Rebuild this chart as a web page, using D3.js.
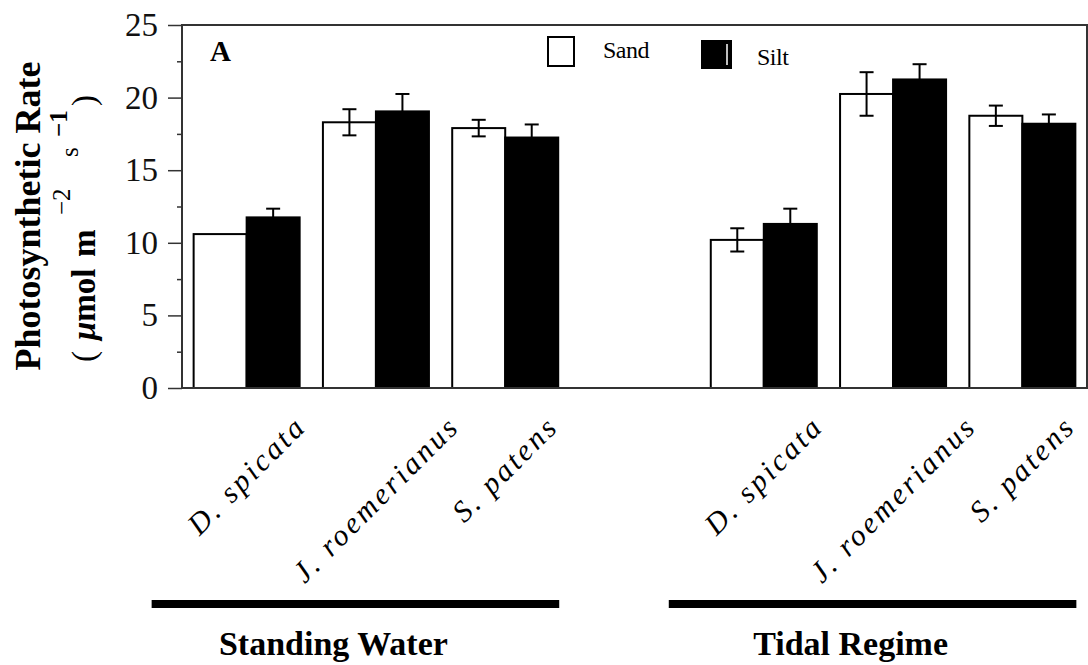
<!DOCTYPE html>
<html>
<head>
<meta charset="utf-8">
<script src="https://cdn.jsdelivr.net/npm/d3@7"></script>
<style>
  body { margin: 0; background: #fff; }
  svg { display: block; font-family: 'Liberation Serif', 'Times New Roman', serif; }
</style>
</head>
<body>
<div id="chart"></div>
<script>
// Chart values (photosynthetic rate, umol m-2 s-1)
const regimes = ['Standing Water', 'Tidal Regime'];
const species = ['D. spicata', 'J. roemerianus', 'S. patens'];
const soils = ['Sand', 'Silt'];
const sandMeans = [10.6, 18.3, 17.9, 10.2, 20.25, 18.75];
const sandErrors = [0, 0.9, 0.57, 0.8, 1.5, 0.7];
const siltMeans = [11.75, 19.05, 17.25, 11.3, 21.25, 18.2];
const siltErrors = [0.6, 1.2, 0.9, 1.05, 1.05, 0.64];
const yTicks = [0, 5, 10, 15, 20, 25];
const yMinorTicks = [2.5, 7.5, 12.5, 17.5, 22.5];
const panelLabel = 'A';
const serif = "'Liberation Serif', 'Times New Roman', serif";

class GroupedBarChart {
  constructor(_config) {
    this.config = {
      parentElement: _config.parentElement,
      containerWidth: 1088,
      containerHeight: 665,
      margin: {
        top: 25, right: 1, bottom: 277, left: 182,
      },
    };
    this.initVis();
  }

  initVis() {
    const vis = this;

    vis.config.width = vis.config.containerWidth
        - vis.config.margin.left - vis.config.margin.right;
    vis.config.height = vis.config.containerHeight
        - vis.config.margin.top - vis.config.margin.bottom;

    vis.svg = d3.select(vis.config.parentElement).append('svg')
      .attr('width', vis.config.containerWidth)
      .attr('height', vis.config.containerHeight);

    vis.chart = vis.svg.append('g')
      .attr('transform', `translate(${vis.config.margin.left},${vis.config.margin.top})`);

    // one band per species, with an empty band between the two regimes
    vis.slots = regimes.flatMap((r, i) => (i > 0 ? ['gap'] : [])
      .concat(species.map((s) => `${r}|${s}`)));

    vis.xScale = d3.scaleBand()
      .domain(vis.slots)
      .range([0, vis.config.width])
      .paddingInner(0.18)
      .paddingOuter(0.09);

    vis.xSub = d3.scaleBand()
      .domain(soils)
      .range([0, vis.xScale.bandwidth()]);

    vis.yScale = d3.scaleLinear()
      .domain([0, 25])
      .range([vis.config.height, 0]);

    vis.colorScale = d3.scaleOrdinal()
      .domain(soils)
      .range(['#fff', '#000']);

    vis.yAxis = d3.axisLeft(vis.yScale)
      .tickValues(yTicks)
      .tickSize(14)
      .tickSizeOuter(0)
      .tickPadding(10);

    vis.yAxisMinor = d3.axisLeft(vis.yScale)
      .tickValues(yMinorTicks)
      .tickSize(5)
      .tickSizeOuter(0)
      .tickFormat('');

    vis.updateVis();
  }

  updateVis() {
    const vis = this;
    vis.rows = regimes.flatMap((r, i) => species.map((s, j) => {
      const k = i * species.length + j;
      return {
        regime: r,
        species: s,
        key: `${r}|${s}`,
        values: [
          { soil: 'Sand', mean: sandMeans[k], err: sandErrors[k] },
          { soil: 'Silt', mean: siltMeans[k], err: siltErrors[k] },
        ],
      };
    }));
    vis.renderVis();
  }

  renderVis() {
    const vis = this;
    const { width, height } = vis.config;

    // Bars
    const group = vis.chart.selectAll('.group')
      .data(vis.rows)
      .join('g')
      .attr('class', 'group')
      .attr('transform', (d) => `translate(${vis.xScale(d.key)},0)`);

    group.selectAll('rect')
      .data((d) => d.values)
      .join('rect')
      .attr('x', (d) => vis.xSub(d.soil))
      .attr('y', (d) => vis.yScale(d.mean))
      .attr('width', vis.xSub.bandwidth())
      .attr('height', (d) => height - vis.yScale(d.mean))
      .attr('fill', (d) => vis.colorScale(d.soil))
      .attr('stroke', '#000')
      .attr('stroke-width', 2);

    // Error bars (the lower half of a silt bar disappears in the black fill)
    const err = group.selectAll('.err')
      .data((d) => d.values.filter((v) => v.err > 0))
      .join('g')
      .attr('class', 'err')
      .attr('stroke', '#000')
      .attr('stroke-width', 2)
      .attr('transform', (d) => `translate(${vis.xSub(d.soil) + vis.xSub.bandwidth() / 2},0)`);

    err.append('line')
      .attr('y1', (d) => vis.yScale(d.mean - d.err))
      .attr('y2', (d) => vis.yScale(d.mean + d.err));
    err.append('line')
      .attr('x1', -7).attr('x2', 7)
      .attr('y1', (d) => vis.yScale(d.mean + d.err))
      .attr('y2', (d) => vis.yScale(d.mean + d.err));
    err.append('line')
      .attr('x1', -7).attr('x2', 7)
      .attr('y1', (d) => vis.yScale(d.mean - d.err))
      .attr('y2', (d) => vis.yScale(d.mean - d.err));

    // Frame
    vis.chart.append('rect')
      .attr('width', width)
      .attr('height', height)
      .attr('fill', 'none')
      .attr('stroke', '#333')
      .attr('stroke-width', 2);

    // Axes
    const yAxisG = vis.chart.append('g').attr('class', 'axis y-axis').call(vis.yAxis)
      .attr('font-family', serif)
      .attr('font-size', 33);
    yAxisG.select('.domain').remove();
    yAxisG.selectAll('line').attr('stroke', '#333').attr('stroke-width', 1.5);
    yAxisG.selectAll('text').attr('fill', '#111');

    const minorG = vis.chart.append('g').call(vis.yAxisMinor);
    minorG.select('.domain').remove();
    minorG.selectAll('line').attr('stroke', '#333').attr('stroke-width', 1.5);

    // Panel letter
    vis.chart.append('text')
      .attr('x', 28)
      .attr('y', 36)
      .style('font-size', '29px')
      .style('font-weight', 'bold')
      .text(panelLabel);

    // Legend
    const legend = vis.svg.append('g').style('font-family', serif);
    legend.append('rect')
      .attr('x', 548).attr('y', 37).attr('width', 26).attr('height', 29)
      .attr('fill', vis.colorScale('Sand'))
      .attr('stroke', '#000')
      .attr('stroke-width', 2);
    legend.append('text')
      .attr('x', 603).attr('y', 58)
      .style('font-size', '24px')
      .style('letter-spacing', '-0.5px')
      .text(soils[0]);
    legend.append('rect')
      .attr('x', 702).attr('y', 41).attr('width', 29).attr('height', 27)
      .attr('fill', vis.colorScale('Silt'))
      .attr('stroke', '#000')
      .attr('stroke-width', 2);
    legend.append('line')
      .attr('x1', 727).attr('x2', 727).attr('y1', 44).attr('y2', 65)
      .attr('stroke', '#fff')
      .attr('stroke-width', 1.5);
    legend.append('text')
      .attr('x', 757).attr('y', 65)
      .style('font-size', '24px')
      .style('letter-spacing', '-0.5px')
      .text(soils[1]);

    // Species labels, rotated 45 degrees, top end sitting near y = 425
    vis.rows.forEach((d) => {
      const cx = vis.xScale(d.key) + vis.xScale.bandwidth() / 2 + 7;
      const label = vis.chart.append('text')
        .attr('text-anchor', 'middle')
        .style('font-family', serif)
        .style('font-size', '30px')
        .style('font-style', 'italic')
        .style('letter-spacing', '3px')
        .text(d.species);
      const len = label.node().getComputedTextLength();
      label.attr('transform', `translate(${cx},${height + 40 + len * 0.3536}) rotate(-45)`);
    });

    // Regime bars and labels
    regimes.forEach((r) => {
      const first = vis.xScale(`${r}|${species[0]}`);
      const last = vis.xScale(`${r}|${species[species.length - 1]}`) + vis.xScale.bandwidth();
      const x1 = first - 42;
      const x2 = last + 1;
      vis.chart.append('line')
        .attr('x1', x1).attr('x2', x2)
        .attr('y1', height + 216).attr('y2', height + 216)
        .attr('stroke', '#000')
        .attr('stroke-width', 8);
      vis.chart.append('text')
        .attr('x', (x1 + x2) / 2 - 22)
        .attr('y', height + 267)
        .attr('text-anchor', 'middle')
        .style('font-size', '34px')
        .style('font-weight', 'bold')
        .text(r);
    });

    // Y axis title
    vis.svg.append('text')
      .attr('transform', 'translate(40,216) rotate(-90)')
      .attr('text-anchor', 'middle')
      .style('font-size', '36px')
      .style('font-weight', 'bold')
      .text('Photosynthetic Rate');

    // unit line, laid out from its lower end upward
    const unit = vis.svg.append('text')
      .attr('transform', 'translate(95,362) rotate(-90)')
      .style('font-size', '33px');
    unit.append('tspan').attr('x', 0).text('(');
    unit.append('tspan').attr('x', 22).style('font-weight', 'bold').style('font-style', 'italic').text('μ');
    unit.append('tspan').style('font-weight', 'bold').text('mol');
    unit.append('tspan').attr('x', 105).style('font-weight', 'bold').text('m');
    unit.append('tspan').attr('x', 147).attr('dy', -25).style('font-size', '25px').text('−2');
    unit.append('tspan').attr('x', 205).attr('dy', 8).style('font-size', '25px').text('s');
    unit.append('tspan').attr('x', 225).attr('dy', -11).style('font-size', '25px').style('font-weight', 'bold').text('−1');
    unit.append('tspan').attr('x', 256).attr('dy', 28).text(')');
  }
}

const chart = new GroupedBarChart({ parentElement: '#chart' });
</script>
</body>
</html>
